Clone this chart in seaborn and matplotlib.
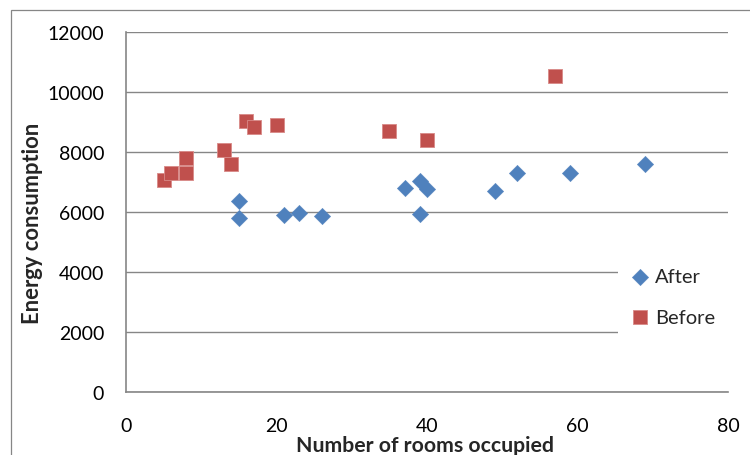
import matplotlib
matplotlib.use("Agg")
import matplotlib.pyplot as plt
from matplotlib.patches import Rectangle
import seaborn as sns
import pandas as pd

# Data
after_rooms = [15, 15, 21, 23, 26, 37, 39, 40, 39, 49, 52, 59, 69]
after_energy = [6370, 5820, 5900, 5980, 5860, 6790, 7040, 6760, 5950, 6700, 7320, 7310, 7590]
before_rooms = [5, 6, 8, 8, 13, 14, 16, 17, 20, 35, 40, 57]
before_energy = [7070, 7290, 7800, 7320, 8080, 7600, 9050, 8850, 8920, 8700, 8390, 10540]

x_ticks = [0, 20, 40, 60, 80]
y_ticks = [0, 2000, 4000, 6000, 8000, 10000, 12000]

after_df = pd.DataFrame({"rooms": after_rooms, "energy": after_energy})
before_df = pd.DataFrame({"rooms": before_rooms, "energy": before_energy})

sns.set_style("white")
plt.rcParams["font.family"] = ["Lato", "DejaVu Sans"]

GREY = "#868686"
BLUE = "#4F81BD"
RED = "#C0504D"

fig = plt.figure(figsize=(7.5, 4.56), dpi=100)
ax = fig.add_axes([0.168, 0.1375, 0.803, 0.790])

sns.scatterplot(data=after_df, x="rooms", y="energy", ax=ax, marker="D", s=70,
                color=BLUE, edgecolor=BLUE, linewidth=0.3, label="After", zorder=3)
sns.scatterplot(data=before_df, x="rooms", y="energy", ax=ax, marker="s", s=112,
                color=RED, edgecolor="#D88A88", linewidth=0.6, label="Before", zorder=3)

ax.set_xlim(0, 80)
ax.set_ylim(0, 12000)
ax.set_xticks(x_ticks)
ax.set_yticks(y_ticks)
ax.set_xticklabels([str(v) for v in x_ticks])
ax.set_yticklabels([str(v) for v in y_ticks])

ax.yaxis.grid(True, color=GREY, linewidth=1.0)
ax.xaxis.grid(False)
ax.set_axisbelow(True)

for side in ["top", "right"]:
    ax.spines[side].set_visible(False)
for side in ["left", "bottom"]:
    ax.spines[side].set_color(GREY)
    ax.spines[side].set_linewidth(1.2)

ax.tick_params(axis="both", which="major", direction="out", length=5.8, width=1.0,
               color=GREY, labelsize=14, labelcolor="black")
ax.tick_params(axis="y", pad=10)
ax.tick_params(axis="x", pad=12)

ax.set_xlabel("Number of rooms occupied", fontsize=15.3, fontweight="bold")
ax.set_ylabel("Energy consumption", fontsize=15.8, fontweight="bold")
ax.xaxis.set_label_coords(0.497, -0.146)
ax.xaxis.label.set_va("center")
ax.yaxis.set_label_coords(-0.156, 0.471)
ax.yaxis.label.set_va("center")

leg = ax.legend(loc="center left", bbox_to_anchor=(0.817, 0.265), frameon=True,
                facecolor="white", edgecolor="none", framealpha=1, fancybox=False,
                fontsize=14.5, handlelength=1.0, handletextpad=0.25, labelspacing=1.15,
                borderpad=0.6, borderaxespad=0.0)
leg.set_zorder(5)

fig.patches.append(Rectangle((0.014, -0.1), 1.2, 0.976 + 0.1, transform=fig.transFigure,
                             fill=False, edgecolor=GREY, linewidth=0.9))

fig.savefig("out.png", dpi=100)
